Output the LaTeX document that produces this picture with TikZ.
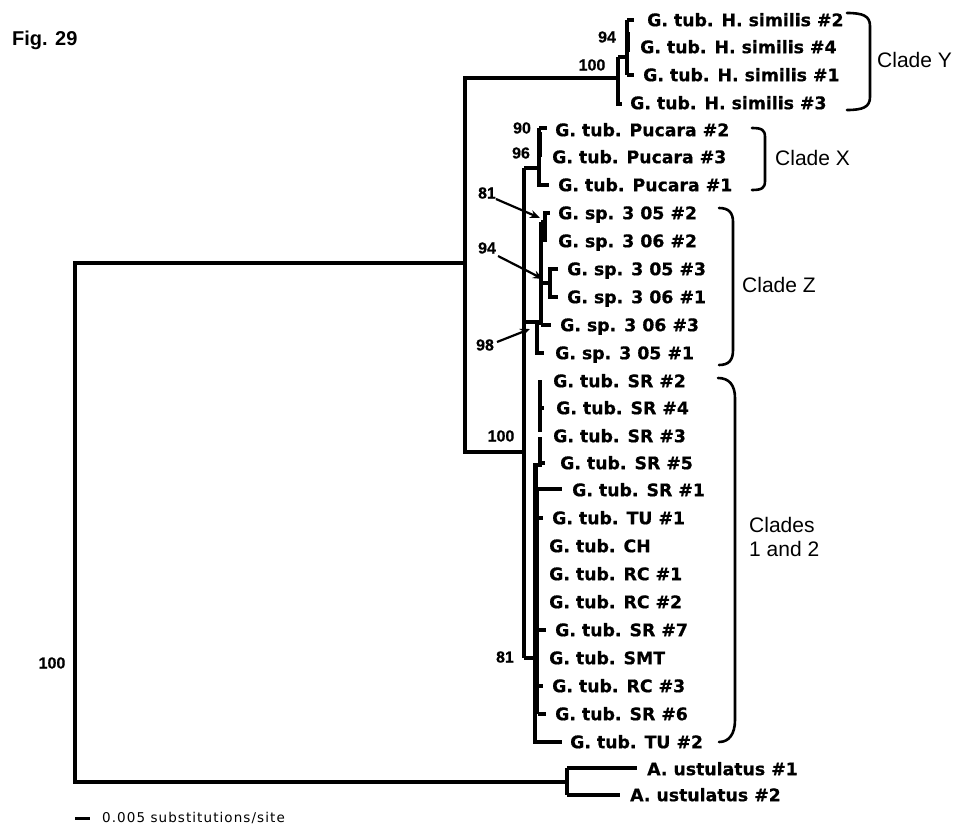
\documentclass[tikz,border=0pt]{standalone}
\usepackage{fontspec}
\setmainfont{Liberation Sans}
\newfontfamily\leaffont{DejaVu Sans}[BoldFeatures={FakeBold=0.7}]
\newfontfamily\bootfont{Liberation Sans}[BoldFeatures={FakeBold=0.5}]
\newfontfamily\scalebarfont[LetterSpace=8]{DejaVu Sans}
\usetikzlibrary{arrows.meta}
\begin{document}
\begin{tikzpicture}[x=1bp,y=-1bp,
  leaf/.style={anchor=west, inner sep=0pt, text height=12.4bp, text depth=0pt,
    font=\leaffont\bfseries\fontsize{17.3bp}{20bp}\selectfont},
  boot/.style={inner sep=0pt, font=\bootfont\bfseries\fontsize{16bp}{18bp}\selectfont},
  cladelab/.style={anchor=west, inner sep=0pt, align=left,
    font=\fontsize{21bp}{24bp}\selectfont},
  br/.style={line width=3.3bp},
  brthick/.style={line width=4.6bp},
  brthin/.style={line width=2bp},
  brk/.style={line width=2.6bp, line cap=round},
  arr/.style={line width=2.2bp, -{Stealth[length=10bp,width=8bp]}}
]
\useasboundingbox (0,0) rectangle (958,824);

% ---------- title ----------
\node[anchor=base west, inner sep=0pt, font=\bfseries\fontsize{20bp}{22bp}\selectfont] (fig) at (12,45) {Fig. 29};

% ---------- leaves ----------
\node[leaf] (hs2) at (647,20) {G. tub. H. similis \#2};
\node[leaf] (hs4) at (640,47) {G. tub. H. similis \#4};
\node[leaf] (hs1) at (643,75) {G. tub. H. similis \#1};
\node[leaf] (hs3) at (630,103) {G. tub. H. similis \#3};
\node[leaf] (pu2) at (555,130) {G. tub. Pucara \#2};
\node[leaf] (pu3) at (552,157) {G. tub. Pucara \#3};
\node[leaf] (pu1) at (558,185) {G. tub. Pucara \#1};
\node[leaf] (z052) at (558,213) {G. sp. 3 05 \#2};
\node[leaf] (z062) at (558,241) {G. sp. 3 06 \#2};
\node[leaf] (z053) at (567,269) {G. sp. 3 05 \#3};
\node[leaf] (z061) at (567,297) {G. sp. 3 06 \#1};
\node[leaf] (z063) at (560,325) {G. sp. 3 06 \#3};
\node[leaf] (z051) at (555,353) {G. sp. 3 05 \#1};
\node[leaf] (sr2) at (553,381) {G. tub. SR \#2};
\node[leaf] (sr4) at (556,408) {G. tub. SR \#4};
\node[leaf] (sr3) at (553,436) {G. tub. SR \#3};
\node[leaf] (sr5) at (560,463) {G. tub. SR \#5};
\node[leaf] (sr1) at (572,490) {G. tub. SR \#1};
\node[leaf] (tu1) at (552,518) {G. tub. TU \#1};
\node[leaf] (ch) at (549,546) {G. tub. CH};
\node[leaf] (rc1) at (549,574) {G. tub. RC \#1};
\node[leaf] (rc2) at (549,602) {G. tub. RC \#2};
\node[leaf] (sr7) at (555,630) {G. tub. SR \#7};
\node[leaf] (smt) at (549,658) {G. tub. SMT};
\node[leaf] (rc3) at (552,686) {G. tub. RC \#3};
\node[leaf] (sr6) at (555,714) {G. tub. SR \#6};
\node[leaf] (tu2) at (570,742) {G. tub. TU \#2};
\node[leaf] (au1) at (647,769) {A. ustulatus \#1};
\node[leaf] (au2) at (630,795) {A. ustulatus \#2};

% ---------- internal nodes ----------
\coordinate (nR) at (75,263);
\coordinate (nIn) at (465,263);
\coordinate (nY) at (618,78);
\coordinate (nY94) at (627,57);
\coordinate (nM) at (524,452);
\coordinate (nX) at (539,168);
\coordinate (nZ) at (537,322);
\coordinate (nZs) at (541,283);
\coordinate (nZ94) at (550,283);
\coordinate (nC) at (535,658);
\coordinate (nAu) at (567,782);

% ---------- branches ----------
% root
\draw[br] (nIn) -- (nR) -- (75,782) -- (nAu);
% ingroup
\draw[br] (nY) -- (465,78) -- (465,452) -- (nM);
% clade Y
\draw[br] (618,57) -- (618,104) -- (622,104);
\draw[br] (618,57) -- (nY94);
\draw[br] (nY94 |- hs2.west) -- (nY94 |- hs1.west);
\draw[br] (nY94 |- hs2.west) -- (634,20);
\draw[br] (nY94 |- hs1.west) -- (634,75);
\draw[brthick] (628,32) -- (628,52);
% main vertical
\draw[brthick] (524,168) -- (524,658);
% clade X
\draw[br] (524,168) -- (nX);
\draw[br] (539,128) -- (539,185) -- (549,185);
\draw[br] (539,128) -- (547,128);
\draw[brthick] (540,132) -- (540,157);
% clade Z
\draw[br] (524,322) -- (nZ);
\draw[br] (537,320) -- (537,353) -- (544,353);
\draw[brthick] (541,222) -- (541,325);
\draw[br] (541,325) -- (551,325);
\draw[brthick] (545,213) -- (545,242);
\draw[br] (543,213) -- (550,213);
\draw[br] (541,222) -- (545,222);
\draw[br] (nZs) -- (nZ94);
\draw[br] (558,269) -- (550,269) -- (550,297) -- (558,297);
% clades 1 and 2
\draw[br] (524,658) -- (nC);
\draw[br] (535,463) -- (535,742) -- (562,742);
\draw[br] (540,380) -- (540,432);
\draw[brthick] (540,437) -- (540,467);
\draw[br] (540,408) -- (544,408);
\draw[br] (540,463) -- (545,463);
\draw[brthick] (536,463) -- (536,490);
\draw[br] (535,489) -- (562,489);
\draw[brthin] (538,490) -- (538,714);
\draw[br] (538,518) -- (543,518);
\draw[br] (538,630) -- (546,630);
\draw[br] (538,686) -- (543,686);
\draw[br] (538,714) -- (546,714);
% outgroup
\draw[br] (567,768) -- (567,795);
\draw[br] (567,768) -- (637,768);
\draw[br] (567,795) -- (620,795);

% ---------- support values ----------
\node[boot] (b1) at (52,663) {100};
\node[boot] (b2) at (592,65) {100};
\node[boot] (b3) at (607,37) {94};
\node[boot] (b4) at (522,128) {90};
\node[boot] (b5) at (521,153) {96};
\node[boot] (b6) at (487,193) {81};
\node[boot] (b7) at (487,248) {94};
\node[boot] (b8) at (485,345) {98};
\node[boot] (b9) at (501,436) {100};
\node[boot] (b10) at (505,657) {81};

\draw[arr] (496,199) -- (540,218);
\draw[arr] (498,256) -- (543,279);
\draw[arr] (497,342) -- (530,329);

% ---------- clade brackets ----------
\draw[brk] (847,13) .. controls (863,13) and (870,16) .. (870,26) -- (870,97) .. controls (870,107) and (863,110) .. (847,110);
\node[cladelab] (cy) at (877,60) {Clade Y};
\draw[brk] (752,128) .. controls (762,128) and (765,130) .. (765,137) -- (765,181) .. controls (765,188) and (762,190) .. (752,190);
\node[cladelab] (cx) at (775,158) {Clade X};
\draw[brk] (719,208) .. controls (729,208) and (733,213) .. (733,222) -- (733,350) .. controls (733,360) and (729,365) .. (719,365);
\node[cladelab] (cz) at (742,285) {Clade Z};
\draw[brk] (718,378) .. controls (729,378) and (735,385) .. (735,398) -- (735,720) .. controls (735,734) and (729,742) .. (719,742);
\node[cladelab] (c12) at (749,537) {Clades\\1 and 2};

% ---------- scale bar ----------
\draw[line width=3bp] (75,818) -- (90,818);
\node[anchor=west, inner sep=0pt, font=\scalebarfont\fontsize{13.5bp}{15bp}\selectfont] (sb) at (102,818) {0.005 substitutions/site};
\end{tikzpicture}
\end{document}
